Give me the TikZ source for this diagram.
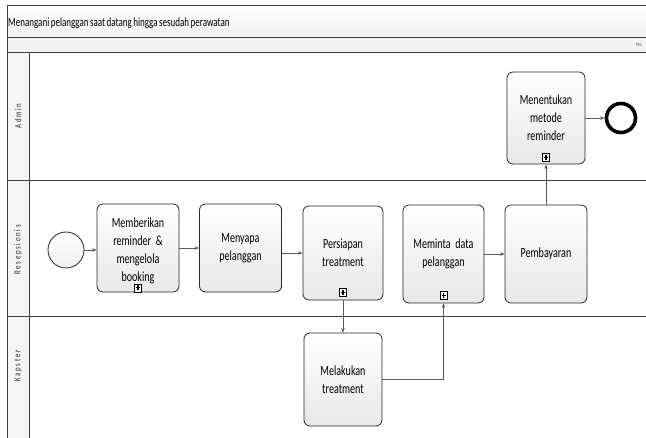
\documentclass[tikz,border=0pt]{standalone}
\usepackage{fontspec}
\setmainfont{Carlito}[FakeStretch=0.72,WordSpace=0.75]
\usetikzlibrary{arrows.meta,calc}
\definecolor{framec}{HTML}{404040}
\definecolor{linec}{HTML}{5A5A5A}
\definecolor{bandgray}{HTML}{F2F2F2}
\definecolor{lanegray}{HTML}{F5F5F5}
\newcommand{\boxfont}{\fontsize{14}{18}\selectfont}
\newcommand{\lanefont}{\fontsize{9.5}{11}\selectfont\addfontfeatures{LetterSpace=18}}
\tikzset{
  task/.style={draw=black!85, rounded corners=6pt, top color=white, bottom color=black!9,
    minimum width=82pt, text width=76pt, align=center, line width=0.8pt, font=\boxfont, inner sep=2pt},
  boxtext/.style={text width=76pt, align=center, font=\boxfont, inner sep=0pt},
  flow/.style={draw=linec, line width=0.8pt, -{Stealth[length=4.5pt,width=3.5pt]}},
  frameline/.style={draw=framec, line width=0.9pt},
  lanelabel/.style={rotate=90, font=\lanefont, text=black!85, inner sep=0pt},
  submark/.style={draw=black, fill=white, minimum width=7pt, minimum height=8pt, inner sep=0pt, line width=0.7pt,
    path picture={\draw[line width=1.1pt] ([yshift=-1.6pt]path picture bounding box.north) -- ([yshift=1.6pt]path picture bounding box.south);
                  \draw[line width=1.1pt] ([xshift=1.5pt]path picture bounding box.west) -- ([xshift=-1.5pt]path picture bounding box.east);}},
}
\begin{document}
\begin{tikzpicture}[x=1pt,y=-1pt]
\useasboundingbox (0,0) rectangle (646,438);
\clip (0,0) rectangle (646,438);
\fill[white] (0,0) rectangle (646,438);
% title band
\shade[top color=white, bottom color=black!6] (7,5) rectangle (646,37);
\fill[bandgray] (7,37) rectangle (646,52);
\fill[lanegray] (7,52) rectangle (29,438);
\draw[frameline] (646,5) -- (7,5) -- (7,438);
\draw[frameline] (7,37) -- (646,37);
\draw[frameline] (7,52) -- (646,52);
\draw[frameline] (29,52) -- (29,438);
\draw[frameline] (7,180) -- (646,180);
\draw[frameline] (7,316) -- (646,316);
\node[anchor=west, font=\fontsize{12.5}{14}\selectfont, inner sep=0pt] (title) at (8,23) {Menangani pelanggan saat datang hingga sesudah perawatan};
\node[anchor=west, font=\fontsize{5}{6}\selectfont, text=black!70, inner sep=0pt] (phase) at (636,45) {Pha};
% lane labels
\node[lanelabel] (ladmin) at (18,116) {Admin};
\node[lanelabel] (lresep) at (18,250) {Resepsionis};
\node[lanelabel] (lkap) at (18,366) {Kapster};
% events
\node[circle, draw=black!85, line width=0.8pt, top color=white, bottom color=black!6, minimum size=36pt, inner sep=0pt] (start) at (66,250) {};
\node[circle, draw=black, line width=3.6pt, fill=white, minimum size=29pt, inner sep=0pt] (end) at (621,118) {};
% tasks
\node[task, minimum height=88pt] (b1) at (138,248) {};
\node[boxtext] (b1t) at (138,250.5) {Memberikan\\ reminder \&\\ mengelola\\ booking};
\node[task, minimum height=88pt] (b2) at (240.5,248) {Menyapa\\ pelanggan};
\node[task, minimum height=94pt, minimum width=80pt, text width=74pt] (b3) at (343,253) {Persiapan\\ treatment};
\node[task, minimum height=98pt, minimum width=81pt] (b4) at (443.5,254) {Meminta data\\ pelanggan};
\node[task, minimum height=98pt] (b5) at (546,254) {Pembayaran};
\node[task, minimum height=92pt, minimum width=78pt, text width=72pt] (b6) at (546,118) {Menentukan\\ metode\\ reminder};
\node[task, minimum height=93pt, minimum width=78pt, text width=72pt] (b7) at (343,379.5) {Melakukan\\ treatment};
% subprocess markers
\node[submark] (m1) at ([yshift=4.5pt]b1.south) {};
\node[submark] (m3) at ([yshift=8pt]b3.south) {};
\node[submark] (m4) at ([yshift=8pt]b4.south) {};
\node[submark] (m6) at ([yshift=7pt]b6.south) {};
% flows
\draw[flow] (start.east) -- (b1.west |- start);
\draw[flow] (b1.east) -- (b2.west);
\draw[flow] (b2.east |- b3) -- (b3.west);
\draw[flow] (b3.south) -- (b7.north);
\draw[flow] (b7.east) -| (b4.south);
\draw[flow] (b4.east) -- (b5.west |- b4);
\draw[flow] (b5.north) -- (b6.south);
\draw[flow] (b6.east) -- (end.west);
\end{tikzpicture}
\end{document}
